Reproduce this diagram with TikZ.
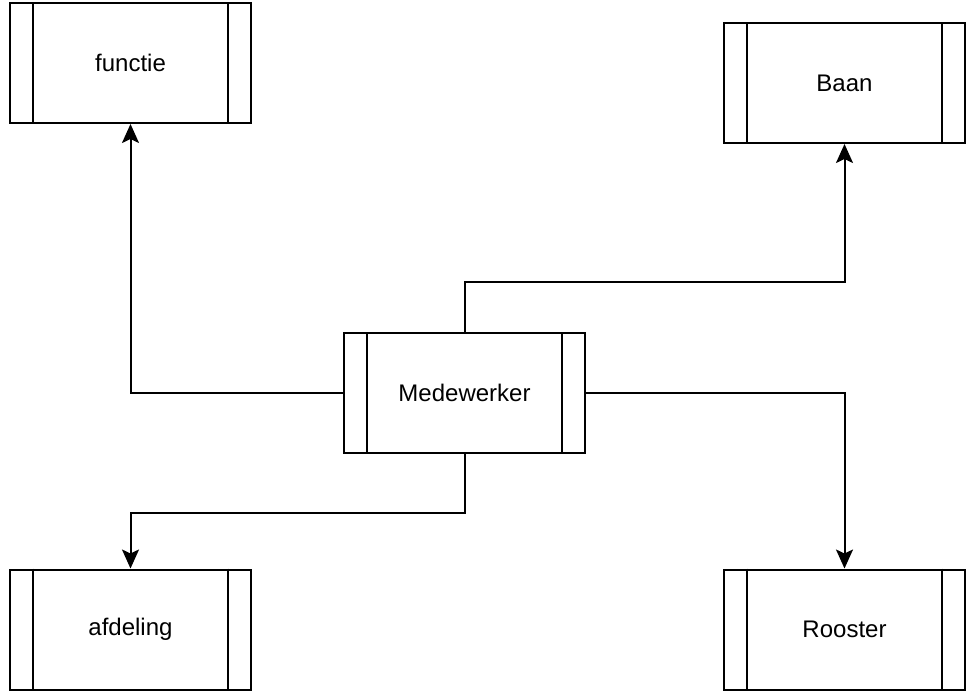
\documentclass[tikz,border=0pt]{standalone}
\usepackage{fontspec}
\setmainfont{Liberation Sans}
\usetikzlibrary{arrows.meta}
\tikzset{
  proc/.style={draw, line width=2pt, minimum width=241pt, minimum height=120pt, inner sep=0pt, font=\fontsize{24pt}{28pt}\selectfont,
    append after command={
      \pgfextra{\let\mynode\tikzlastnode}
      ([xshift=24pt]\mynode.north west) edge[line width=2pt] ([xshift=24pt]\mynode.south west)
      ([xshift=-24pt]\mynode.north east) edge[line width=2pt] ([xshift=-24pt]\mynode.south east)
    }},
  conn/.style={line width=2pt, -{Stealth[length=19pt,width=17pt,inset=4pt]}}
}
\begin{document}
\begin{tikzpicture}[x=1pt,y=-1pt]
\useasboundingbox (0,0) rectangle (975,691);
\node[proc] (functie) at (130.5,63) {functie};
\node[proc] (baan) at (844.5,83) {Baan};
\node[proc] (med) at (464.5,393) {Medewerker};
\node[proc] (afd) at (130.5,629.5) {afdeling};
\node[proc] (rooster) at (844.5,629.5) {Rooster};
\draw[conn] (med.west) -| (functie.south);
\draw[conn] (med.north) -- ++(0,-50) -| (baan.south);
\draw[conn] (med.east) -| (rooster.north);
\draw[conn] (med.south) -- ++(0,59) -| (afd.north);
\end{tikzpicture}
\end{document}
